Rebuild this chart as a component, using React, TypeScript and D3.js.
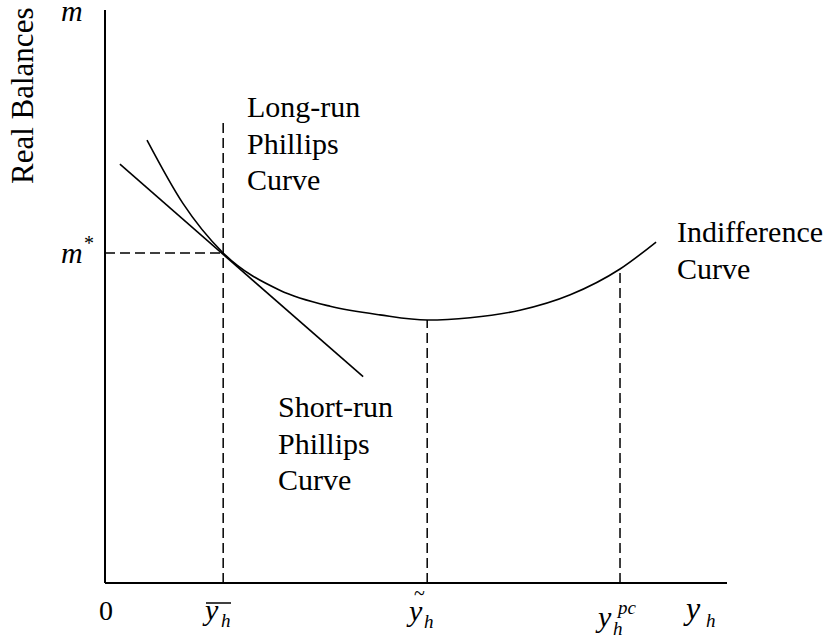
import React from "react";
import * as d3 from "d3";

// values (axis units: 0..100 on both axes)
const indifference: [number, number][] = [
  [6.75, 77.3], [12.5, 66.3], [19.0, 57.6], [28.1, 51.1], [36.2, 48.3],
  [44.2, 46.8], [51.8, 45.9], [58.7, 46.3], [66.7, 47.6], [74.8, 50.3],
  [82.8, 54.8], [88.6, 59.5],
];
const shortRun: [number, number][] = [[2.4, 73.1], [41.5, 36.0]];
const yBar = 19.0;
const yTilde = 51.8;
const yPc = 82.8;
const mStar = 57.6;
const longRunTop = 80.5;

const W = 834;
const H = 643;
const FONT = "'Liberation Serif', 'Times New Roman', serif";

export default function App() {
  const x = d3.scaleLinear().domain([0, 100]).range([105, 727]);
  const y = d3.scaleLinear().domain([0, 100]).range([583, 10]);

  const curve = d3
    .line<[number, number]>()
    .x((d) => x(d[0]))
    .y((d) => y(d[1]))
    .curve(d3.curveMonotoneX);
  const straight = d3
    .line<[number, number]>()
    .x((d) => x(d[0]))
    .y((d) => y(d[1]));

  const dash = "10,5";
  const yAt = (v: number) => {
    // y-value of indifference curve nearest a given x (for dashed drop lines)
    let best = indifference[0];
    indifference.forEach((p) => {
      if (Math.abs(p[0] - v) < Math.abs(best[0] - v)) best = p;
    });
    return best[1];
  };

  const label = (lines: string[], px: number, py: number) => (
    <text x={px} y={py} fontFamily={FONT} fontSize={30} fill="#000">
      {lines.map((t, i) => (
        <tspan key={i} x={px} dy={i === 0 ? 0 : 36.5}>
          {t}
        </tspan>
      ))}
    </text>
  );

  return (
    <svg width={W} height={H} style={{ position: "absolute", left: 0, top: 0, background: "#fff" }}>
      {/* axes */}
      <line x1={x(0)} y1={y(0)} x2={x(0)} y2={y(100)} stroke="#000" strokeWidth={2} />
      <line x1={x(0)} y1={y(0)} x2={x(100)} y2={y(0)} stroke="#000" strokeWidth={2} />

      {/* dashed guide lines */}
      <line x1={x(yBar)} y1={y(0)} x2={x(yBar)} y2={y(longRunTop)} stroke="#000" strokeWidth={1.5} strokeDasharray={dash} />
      <line x1={x(0)} y1={y(mStar)} x2={x(yBar)} y2={y(mStar)} stroke="#000" strokeWidth={1.5} strokeDasharray={dash} />
      <line x1={x(yTilde)} y1={y(0)} x2={x(yTilde)} y2={y(yAt(yTilde))} stroke="#000" strokeWidth={1.5} strokeDasharray={dash} />
      <line x1={x(yPc)} y1={y(0)} x2={x(yPc)} y2={y(yAt(yPc))} stroke="#000" strokeWidth={1.5} strokeDasharray={dash} />

      {/* curves */}
      <path d={curve(indifference) ?? ""} fill="none" stroke="#000" strokeWidth={1.6} />
      <path d={straight(shortRun) ?? ""} fill="none" stroke="#000" strokeWidth={1.6} />

      {/* text labels */}
      {label(["Long-run", "Phillips", "Curve"], 247, 117)}
      {label(["Short-run", "Phillips", "Curve"], 278, 417)}
      {label(["Indifference", "Curve"], 677, 242)}

      <text transform="translate(33,184) rotate(-90)" fontFamily={FONT} fontSize={31}>
        Real Balances
      </text>

      {/* y axis symbols */}
      <text x={61} y={21} fontFamily={FONT} fontStyle="italic" fontSize={30}>m</text>
      <text x={61} y={263} fontFamily={FONT} fontStyle="italic" fontSize={30}>m</text>
      <text x={84} y={250} fontFamily={FONT} fontSize={20}>*</text>

      {/* x axis symbols */}
      <text x={99} y={620} fontFamily={FONT} fontSize={28}>0</text>

      <text x={205} y={620} fontFamily={FONT} fontStyle="italic" fontSize={30}>y</text>
      <text x={221} y={627} fontFamily={FONT} fontStyle="italic" fontSize={19}>h</text>
      <line x1={206} y1={603} x2={231} y2={603} stroke="#000" strokeWidth={1.5} />

      <text x={409} y={621} fontFamily={FONT} fontStyle="italic" fontSize={30}>y</text>
      <text x={424} y={628} fontFamily={FONT} fontStyle="italic" fontSize={19}>h</text>
      <text x={414} y={600} fontFamily={FONT} fontSize={20}>~</text>

      <text x={598} y={627} fontFamily={FONT} fontStyle="italic" fontSize={30}>y</text>
      <text x={613} y={635} fontFamily={FONT} fontStyle="italic" fontSize={19}>h</text>
      <text x={618} y={614} fontFamily={FONT} fontStyle="italic" fontSize={19}>pc</text>

      <text x={686} y={619} fontFamily={FONT} fontStyle="italic" fontSize={32}>y</text>
      <text x={706} y={627} fontFamily={FONT} fontStyle="italic" fontSize={19}>h</text>
    </svg>
  );
}
